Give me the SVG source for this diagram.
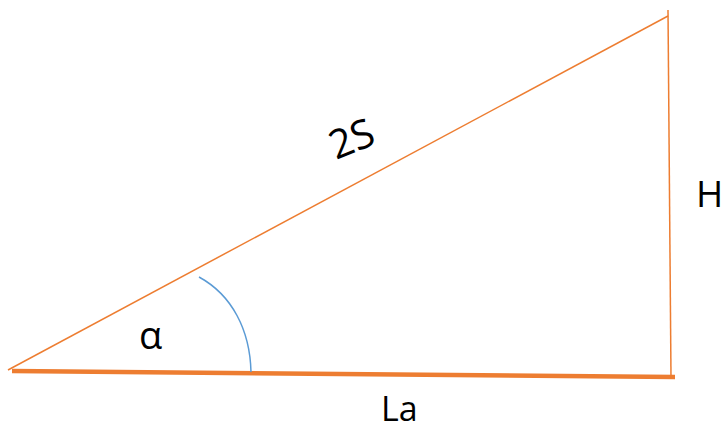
<svg xmlns="http://www.w3.org/2000/svg" width="726" height="431" viewBox="0 0 726 431">
<style>
.o{stroke:#ED7D31;fill:none;stroke-linecap:butt}
.t{font-family:"Open Sans","Liberation Sans",sans-serif;fill:#000}
</style>
<rect width="726" height="431" fill="#fff"/>
<g id="connectors">
<line id="hyp" class="o" x1="8" y1="370" x2="668" y2="16" stroke-width="1.5"/>
<line id="height" class="o" x1="668" y1="10" x2="671" y2="377" stroke-width="1.5"/>
<line id="base" class="o" x1="12" y1="371" x2="675" y2="377" stroke-width="4.5"/>
<path id="arc" d="M199,277 C232,295 250,330 251,372" stroke="#5B9BD5" stroke-width="1.5" fill="none"/>
</g>
<g id="label-2S"><text class="t" x="0" y="0" font-size="40" transform="translate(336,160) rotate(-22)">2S</text></g>
<g id="label-H"><text class="t" x="696" y="207" font-size="37">H</text></g>
<g id="label-alpha"><text class="t" x="139" y="349" font-size="38">α</text></g>
<g id="label-La"><text class="t" x="381" y="421" font-size="34">La</text></g>
</svg>
